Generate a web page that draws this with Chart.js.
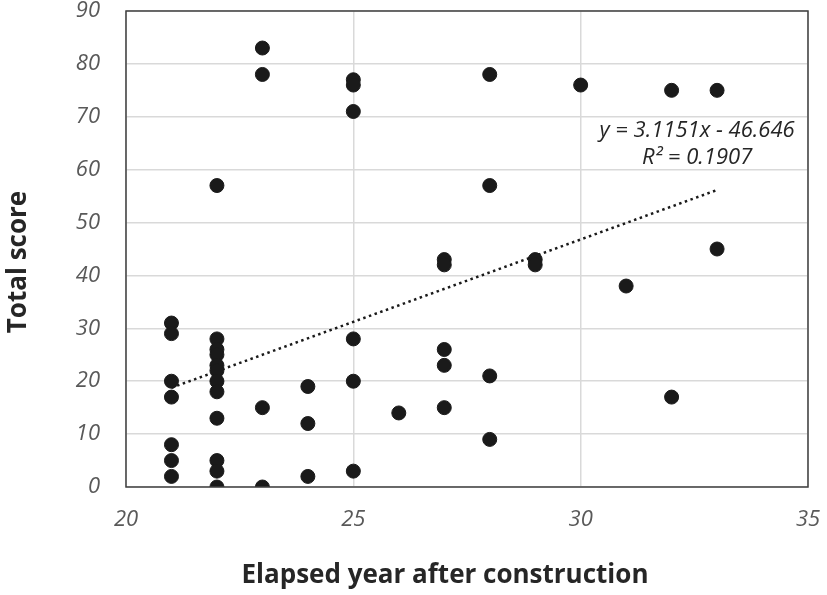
<!DOCTYPE html>
<html>
<head>
<meta charset="utf-8">
<script src="https://cdn.jsdelivr.net/npm/chart.js@4/dist/chart.umd.min.js"></script>
<style>
  html, body { margin: 0; padding: 0; background: #fff; }
  #wrap { width: 827px; height: 595px; }
</style>
</head>
<body>
<div id="wrap"><canvas id="canvas" width="827" height="595"></canvas></div>
<script>
// values: elapsed years and total score, one entry per dot
var years = [21, 21, 21, 21, 21, 21, 21,
             22, 22, 22, 22, 22, 22, 22, 22, 22, 22, 22, 22,
             23, 23, 23, 23,
             24, 24, 24,
             25, 25, 25, 25, 25, 25,
             26,
             27, 27, 27, 27, 27,
             28, 28, 28, 28,
             29, 29,
             30, 31,
             32, 32,
             33, 33]
var scores = [31, 29, 20, 17, 8, 5, 2,
              57, 28, 26, 25, 23, 22, 20, 18, 13, 5, 3, 0,
              83, 78, 15, 0,
              19, 12, 2,
              77, 76, 71, 28, 20, 3,
              14,
              43, 42, 26, 23, 15,
              78, 57, 21, 9,
              43, 42,
              76, 38,
              75, 17,
              75, 45]

// linear trendline as shown in the picture
var trendX = [21, 33]
var trendY = [18.77, 56.15]
var equationLines = ['y = 3.1151x - 46.646', 'R\u00B2 = 0.1907']

var xTicks = [20, 25, 30, 35]
var yTicks = [0, 10, 20, 30, 40, 50, 60, 70, 80, 90]
var xTitle = 'Elapsed year after construction'
var yTitle = 'Total score'

var points = years.map(function (x, i) { return { x: x, y: scores[i] } })
var trend = trendX.map(function (x, i) { return { x: x, y: trendY[i] } })

var tickFont = { family: "'Open Sans', sans-serif", size: 22, style: 'italic' }

// draws the plot border, the trendline equation and both axis titles
var extras = {
  id: 'extras',
  afterDraw: function (chart) {
    var ctx = chart.ctx
    var a = chart.chartArea
    ctx.save()
    ctx.strokeStyle = '#404040'
    ctx.lineWidth = 1.5
    ctx.strokeRect(a.left, a.top, a.right - a.left, a.bottom - a.top)

    ctx.fillStyle = '#262626'
    ctx.font = "italic 22px 'Open Sans', sans-serif"
    ctx.textAlign = 'center'
    ctx.textBaseline = 'middle'
    var cx = chart.scales.x.getPixelForValue(32.56)
    ctx.fillText(equationLines[0], cx, chart.scales.y.getPixelForValue(67.3))
    ctx.fillText(equationLines[1], cx, chart.scales.y.getPixelForValue(62.2))

    ctx.font = "bold 26px 'Open Sans', sans-serif"
    ctx.fillText(xTitle, 445, 576)
    ctx.translate(19, 262)
    ctx.rotate(-Math.PI / 2)
    ctx.fillText(yTitle, 0, 0)
    ctx.restore()
  }
}

var config = {
  type: 'scatter',
  data: {
    datasets: [
      {
        label: 'Total score',
        data: points,
        backgroundColor: '#1a1a1a',
        borderColor: '#1a1a1a',
        pointRadius: 7,
        pointHoverRadius: 7
      },
      {
        label: 'Trend',
        type: 'line',
        data: trend,
        borderColor: '#1a1a1a',
        borderWidth: 2.5,
        borderDash: [2.5, 3.5],
        pointRadius: 0,
        fill: false
      }
    ]
  },
  options: {
    responsive: false,
    animation: false,
    layout: { padding: { top: 11, right: 19, left: 0, bottom: 0 } },
    plugins: { legend: { display: false }, tooltip: { enabled: false } },
    scales: {
      x: {
        type: 'linear',
        min: 20, max: 35,
        afterBuildTicks: function (s) { s.ticks = xTicks.map(function (v) { return { value: v } }) },
        afterFit: function (s) { s.height = 108; s.paddingLeft = 0; s.paddingRight = 0 },
        grid: { color: '#d9d9d9', lineWidth: 1.5, drawTicks: false },
        border: { display: false },
        ticks: { color: '#595959', font: tickFont, padding: 20 }
      },
      y: {
        min: 0, max: 90,
        afterBuildTicks: function (s) { s.ticks = yTicks.map(function (v) { return { value: v } }) },
        afterFit: function (s) { s.width = 126; s.paddingTop = 0; s.paddingBottom = 0 },
        grid: { color: '#d9d9d9', lineWidth: 1.5, drawTicks: false },
        border: { display: false },
        ticks: { color: '#595959', font: tickFont, padding: 26 }
      }
    }
  },
  plugins: [extras]
}

var myChart = new Chart(document.getElementById('canvas').getContext('2d'), config)
</script>
</body>
</html>
